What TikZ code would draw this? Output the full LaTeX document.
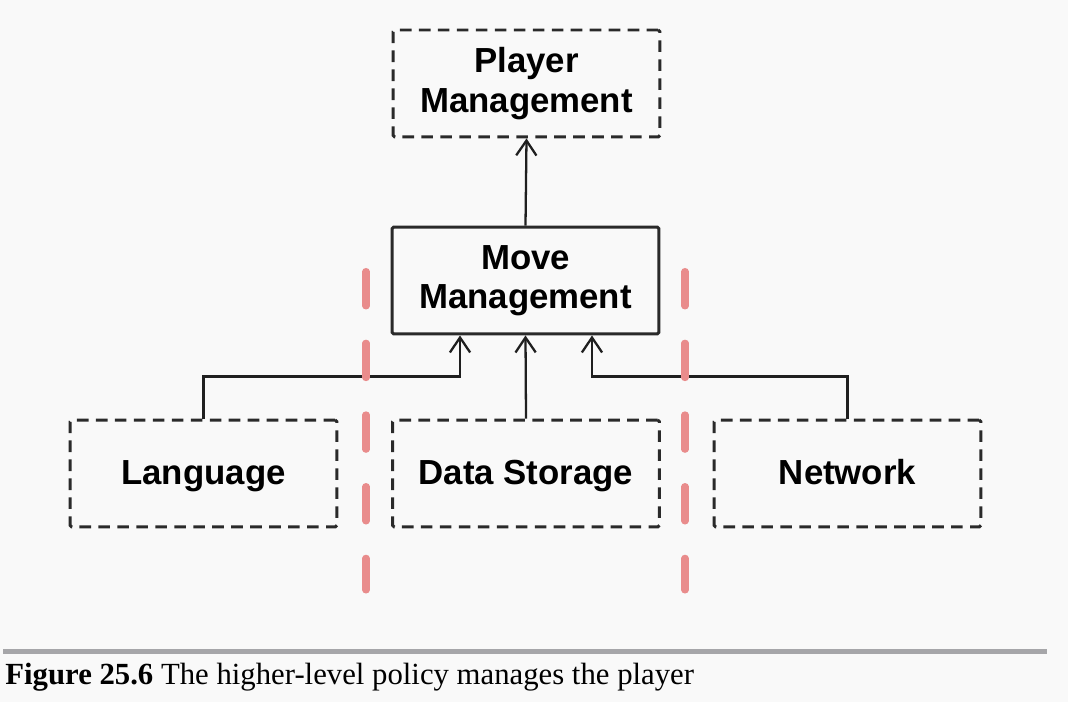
\documentclass[tikz,border=0pt]{standalone}
\usepackage{fontspec}
\setmainfont{Liberation Serif}
\newfontfamily\boxfont{Liberation Sans}
\usetikzlibrary{arrows.meta}
\definecolor{pagebg}{HTML}{F9F9F9}
\definecolor{boxline}{HTML}{2A2A2A}
\definecolor{layerred}{HTML}{E98C8C}
\definecolor{rulegray}{HTML}{A6A6A9}
\tikzset{
  comp/.style={minimum width=5.34cm, minimum height=2.14cm, align=center,
    font=\boxfont\bfseries\fontsize{19.8}{22.5}\selectfont, inner sep=0pt,
    line width=1.7pt, draw=boxline, rounded corners=1pt},
  dashcomp/.style={comp, dash pattern=on 6.6pt off 4.2pt},
  oneline/.style={text height=16pt, text depth=3.2pt},
  link/.style={line width=1.3pt, draw=black!88,
    -{Straight Barb[length=8.5pt,width=11.5pt,line width=1.3pt]}},
  layer/.style={line width=4pt, draw=layerred, line cap=round,
    dash pattern=on 19.6pt off 21.2pt}
}
\begin{document}
\begin{tikzpicture}[x=0.02cm,y=-0.02cm]
  \fill[pagebg] (0,0) rectangle (1068,702);
  \useasboundingbox (0,0) rectangle (1068,702);

  % components
  \node[dashcomp] (player) at (526.5,83.5) {Player\\Management};
  \node[comp]     (move)   at (525.5,280.5) {Move\\Management};
  \node[dashcomp,oneline] (lang) at (203.5,473.5) {Language};
  \node[dashcomp,oneline] (data) at (526,473.5)   {Data Storage};
  \node[dashcomp,oneline] (net)  at (847.5,473.5) {Network};

  % dependencies
  \draw[link] (move.north) -- (player.south);
  \draw[link] (data.north) -- (move.south);
  \draw[link] (lang.north) -- ++(0,-42) -| ([xshift=-1.31cm]move.south);
  \draw[link] (net.north) -- ++(0,-42) -| ([xshift=1.33cm]move.south);

  % layer boundaries
  \coordinate (b1top) at (366,271.5);
  \coordinate (b1bot) at (366,590);
  \coordinate (b2top) at (685,271.5);
  \coordinate (b2bot) at (685,590);
  \draw[layer] (b1top) -- (b1bot);
  \draw[layer] (b2top) -- (b2bot);

  % caption
  \fill[rulegray] (3,649) rectangle (1047,654);
  \node[anchor=base west, inner sep=0pt, font=\fontsize{17.5}{20}\selectfont] (cap) at (5,684)
    {\textbf{Figure 25.6} The higher-level policy manages the player};
\end{tikzpicture}
\end{document}
